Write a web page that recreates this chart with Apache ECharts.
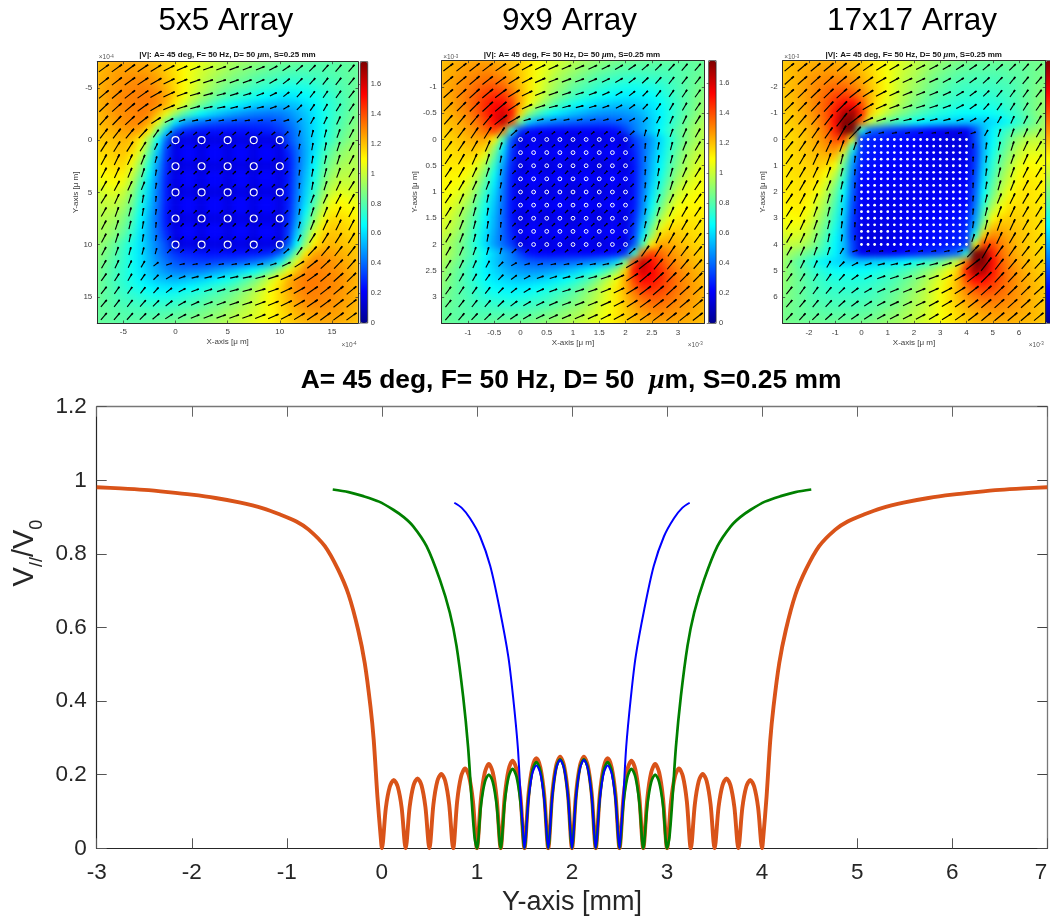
<!DOCTYPE html>
<html><head><meta charset="utf-8">
<style>html,body{margin:0;padding:0;background:#fff;overflow:hidden}#c{width:1050px;height:919px}</style>
<script src="https://cdn.jsdelivr.net/npm/echarts@6/dist/echarts.min.js"></script>
</head><body><div id="c"></div>
<script>
// |V| samples (hundredths) on a 31 x 31 lattice, top row first
const heat5x5=[
[120,122,123,124,124,123,122,120,117,114,111,108,105,102,99,96,94,92,90,88,86,85,84,83,82,81,81,81,82,82,83],
[121,123,125,126,126,126,125,122,118,114,110,106,102,99,96,93,90,88,86,84,82,81,80,79,79,79,79,80,81,82,83],
[122,124,126,128,129,129,128,125,120,115,110,105,100,96,92,89,86,84,81,79,78,76,75,75,75,76,77,78,80,82,83],
[122,125,127,129,130,131,130,127,122,116,110,104,98,93,88,84,81,79,76,74,72,70,69,69,70,72,74,76,79,81,84],
[122,125,128,130,131,132,132,129,124,116,108,100,93,87,82,78,75,72,69,66,64,62,62,63,65,68,71,74,78,81,85],
[122,125,128,130,131,132,132,129,122,112,102,92,84,78,72,68,64,61,58,56,54,53,54,56,60,64,69,73,77,81,86],
[121,124,127,129,130,132,130,120,106,92,80,72,65,60,56,52,49,46,44,43,42,43,46,51,56,62,68,73,78,82,87],
[120,123,125,128,130,130,124,106,84,62,50,44,40,37,35,34,33,32,32,32,33,36,41,47,54,61,68,74,79,84,88],
[119,121,123,125,126,124,112,86,58,36,28,26,25,24,24,24,24,24,25,26,27,30,36,44,53,61,68,75,81,86,90],
[118,119,120,122,120,112,92,66,38,10,17,17,10,17,17,10,17,17,10,17,17,10,34,43,52,61,69,76,83,88,92],
[116,117,119,120,117,106,84,58,32,17,22,22,17,22,22,17,22,22,17,22,22,17,29,40,51,61,73,81,88,92,94],
[114,115,117,118,112,98,76,52,30,17,22,22,17,22,22,17,22,22,17,22,22,17,26,39,51,63,76,85,91,94,95],
[111,113,115,115,106,90,70,48,28,10,17,17,10,17,17,10,17,17,10,17,17,10,25,39,52,65,79,88,94,96,96],
[108,110,112,111,100,84,64,45,27,17,22,22,17,22,22,17,22,22,17,22,22,17,25,40,54,68,82,92,97,98,97],
[105,107,109,106,95,78,60,43,26,17,22,22,17,22,22,17,22,22,17,22,22,17,26,41,56,71,86,96,100,100,99],
[101,103,104,100,90,74,58,42,26,10,17,17,10,17,17,10,17,17,10,17,17,10,26,42,58,74,90,100,104,103,101],
[99,100,100,96,86,71,56,41,26,17,22,22,17,22,22,17,22,22,17,22,22,17,26,43,60,78,95,106,109,107,105],
[97,98,97,92,82,68,54,40,25,17,22,22,17,22,22,17,22,22,17,22,22,17,27,45,64,84,100,111,112,110,108],
[96,96,94,88,79,65,52,39,25,10,17,17,10,17,17,10,17,17,10,17,17,10,28,48,70,90,106,115,115,113,111],
[95,94,91,85,76,63,51,39,26,17,22,22,17,22,22,17,22,22,17,22,22,17,30,52,76,98,112,118,117,115,114],
[94,92,88,81,73,61,51,40,29,17,22,22,17,22,22,17,22,22,17,22,22,17,32,58,84,106,117,120,119,117,116],
[92,88,83,76,69,61,52,43,34,10,17,17,10,17,17,10,17,17,10,17,17,10,38,66,92,112,120,122,120,119,118],
[90,86,81,75,68,61,53,44,36,30,27,26,25,24,24,24,24,24,25,26,28,36,58,86,112,124,126,125,123,121,119],
[88,84,79,74,68,61,54,47,41,36,33,32,32,32,33,34,35,37,40,44,50,62,84,106,124,130,130,128,125,123,120],
[87,82,78,73,68,62,56,51,46,43,42,43,44,46,49,52,56,60,65,72,80,92,106,120,130,132,130,129,127,124,121],
[86,81,77,73,69,64,60,56,54,53,54,56,58,61,64,68,72,78,84,92,102,112,122,129,132,132,131,130,128,125,122],
[85,81,78,74,71,68,65,63,62,62,64,66,69,72,75,78,82,87,93,100,108,116,124,129,132,132,131,130,128,125,122],
[84,81,79,76,74,72,70,69,69,70,72,74,76,79,81,84,88,93,98,104,110,116,122,127,130,131,130,129,127,125,122],
[83,82,80,78,77,76,75,75,75,76,78,79,81,84,86,89,92,96,100,105,110,115,120,125,128,129,129,128,126,124,122],
[83,82,81,80,79,79,79,79,80,81,82,84,86,88,90,93,96,99,102,106,110,114,118,122,125,126,126,126,125,123,121],
[83,82,82,81,81,81,82,83,84,85,86,88,90,92,94,96,99,102,105,108,111,114,117,120,122,123,124,124,123,122,120]];
const heat9x9=[
[120,122,123,124,125,125,124,122,120,117,113,110,106,103,100,97,94,92,90,88,86,85,84,83,83,82,82,82,82,83,83],
[121,123,125,127,128,129,128,126,122,118,113,108,104,100,96,93,90,87,85,83,81,80,79,79,79,79,79,80,81,82,84],
[122,124,127,129,131,133,133,130,125,119,113,107,102,96,92,88,85,82,79,77,76,75,74,74,75,76,77,79,81,83,85],
[122,125,128,131,135,138,139,136,129,121,113,106,99,93,88,83,80,77,74,72,70,69,68,69,70,72,75,78,81,84,87],
[122,125,129,133,138,143,146,145,136,123,113,104,96,89,83,78,74,71,68,66,64,63,63,64,66,69,73,77,81,85,89],
[121,124,128,133,139,146,152,152,142,124,108,97,88,80,74,69,65,62,59,57,56,56,57,59,62,66,71,76,81,86,91],
[120,123,127,131,137,146,154,160,150,116,90,78,70,64,60,56,53,50,48,47,47,48,50,54,59,64,70,76,82,87,93],
[119,121,124,128,133,141,152,164,140,86,58,50,46,43,41,39,38,37,36,36,38,41,45,50,57,64,71,78,84,90,95],
[117,119,122,125,129,135,142,132,72,30,24,22,22,21,21,21,21,21,21,22,24,32,42,50,58,66,74,81,87,93,97],
[115,117,119,122,124,125,112,78,36,14,18,18,14,18,18,14,18,18,14,18,18,14,32,40,49,60,70,80,87,93,97],
[114,115,117,119,120,116,92,62,32,18,21,21,18,21,21,18,21,21,18,21,21,18,28,39,50,61,72,82,90,96,100],
[113,114,115,116,114,104,82,56,30,18,21,21,18,21,21,18,21,21,18,21,21,18,26,39,52,63,74,85,93,99,103],
[112,113,113,112,106,94,74,50,28,14,18,18,14,18,18,14,18,18,14,18,18,14,25,39,53,65,77,87,95,101,105],
[111,111,111,108,100,86,68,46,26,18,21,21,18,21,21,18,21,21,18,21,21,18,25,40,55,68,80,91,98,104,107],
[110,110,108,104,94,80,63,44,25,18,21,21,18,21,21,18,21,21,18,21,21,18,25,41,57,71,84,95,102,106,108],
[109,108,105,100,89,75,60,42,25,14,18,18,14,18,18,14,18,18,14,18,18,14,25,42,60,75,89,100,105,108,109],
[108,106,102,95,84,71,57,41,25,18,21,21,18,21,21,18,21,21,18,21,21,18,25,44,63,80,94,104,108,110,110],
[107,104,98,91,80,68,55,40,25,18,21,21,18,21,21,18,21,21,18,21,21,18,26,46,68,86,100,108,111,111,111],
[105,101,95,87,77,65,53,39,25,14,18,18,14,18,18,14,18,18,14,18,18,14,28,50,74,94,106,112,113,113,112],
[103,99,93,85,74,63,52,39,26,18,21,21,18,21,21,18,21,21,18,21,21,18,30,56,82,104,114,116,115,114,113],
[100,96,90,82,72,61,50,39,28,18,21,21,18,21,21,18,21,21,18,21,21,18,32,62,92,116,120,119,117,115,114],
[97,93,87,80,70,60,49,40,32,14,18,18,14,18,18,14,18,18,14,18,18,14,36,78,112,125,124,122,119,117,115],
[97,93,87,81,74,66,58,50,42,32,24,22,21,21,21,21,21,21,22,22,24,30,72,132,142,135,129,125,122,119,117],
[95,90,84,78,71,64,57,50,45,41,38,36,36,37,38,39,41,43,46,50,58,86,140,164,152,141,133,128,124,121,119],
[93,87,82,76,70,64,59,54,50,48,47,47,48,50,53,56,60,64,70,78,90,116,150,160,154,146,137,131,127,123,120],
[91,86,81,76,71,66,62,59,57,56,56,57,59,62,65,69,74,80,88,97,108,124,142,152,152,146,139,133,128,124,121],
[89,85,81,77,73,69,66,64,63,63,64,66,68,71,74,78,83,89,96,104,113,123,136,145,146,143,138,133,129,125,122],
[87,84,81,78,75,72,70,69,68,69,70,72,74,77,80,83,88,93,99,106,113,121,129,136,139,138,135,131,128,125,122],
[85,83,81,79,77,76,75,74,74,75,76,77,79,82,85,88,92,96,102,107,113,119,125,130,133,133,131,129,127,124,122],
[84,82,81,80,79,79,79,79,79,80,81,83,85,87,90,93,96,100,104,108,113,118,122,126,128,129,128,127,125,123,121],
[83,83,82,82,82,82,83,83,84,85,86,88,90,92,94,97,100,103,106,110,113,117,120,122,124,125,125,124,123,122,120]];
const heat17x17=[
[118,120,121,122,123,123,123,122,120,118,115,112,108,105,102,99,96,93,91,89,87,86,85,84,84,84,84,84,85,85,86],
[119,121,123,124,125,126,126,125,123,120,116,112,108,104,100,97,94,90,88,85,83,82,81,81,81,81,82,82,83,85,86],
[119,121,123,126,128,129,130,129,127,123,118,113,108,103,98,95,91,87,84,82,80,79,78,78,78,79,80,81,83,85,87],
[119,121,124,127,130,133,135,135,132,127,120,114,108,102,97,93,89,85,82,79,77,76,76,76,76,77,78,80,83,86,88],
[118,121,124,127,131,136,141,143,140,132,122,114,107,101,95,90,86,82,79,77,75,74,73,73,74,75,77,80,83,86,90],
[118,120,123,127,132,138,146,152,152,140,122,112,104,98,92,87,83,79,76,74,72,71,71,71,71,73,76,79,83,87,91],
[117,119,122,126,131,138,150,166,170,148,118,106,98,91,86,81,77,74,71,69,67,66,66,66,67,70,73,77,82,87,92],
[116,118,121,124,129,137,152,178,182,135,100,90,82,76,72,68,65,62,60,58,57,56,56,57,60,63,68,74,80,86,93],
[115,117,119,122,127,134,148,176,178,72,40,36,32,30,28,26,24,22,20,18,18,20,34,54,64,72,78,83,88,92,95],
[114,116,118,121,125,131,140,142,105,30,27,26,24,24,23,22,20,18,17,16,15,16,34,54,65,75,84,92,97,99,98],
[114,116,118,120,123,127,130,118,72,30,26,25,24,23,22,21,20,18,17,16,16,17,30,54,67,78,88,97,102,103,102],
[113,115,117,119,120,122,119,94,54,28,25,24,23,23,22,21,20,19,18,17,17,18,30,55,70,82,92,101,106,107,106],
[113,115,116,117,118,116,108,82,48,26,24,23,22,22,21,21,20,19,18,18,18,19,32,57,73,86,96,105,110,109,108],
[112,114,115,116,115,109,98,76,44,24,23,22,22,21,21,20,20,19,19,18,19,20,34,60,76,90,100,108,112,111,110],
[112,113,114,114,112,103,90,70,40,22,22,21,21,21,20,20,20,20,19,19,20,21,36,62,80,94,103,111,113,112,111],
[112,113,114,113,108,98,84,66,38,20,21,20,20,20,20,20,20,20,20,20,21,20,38,66,84,98,108,113,114,113,112],
[111,112,113,111,103,94,80,62,36,21,20,19,19,20,20,20,20,21,21,21,22,22,40,70,90,103,112,114,114,113,112],
[110,111,112,108,100,90,76,60,34,20,19,18,19,19,20,20,21,21,22,22,23,24,44,76,98,109,115,116,115,114,112],
[108,109,110,105,96,86,73,57,32,19,18,18,18,19,20,21,21,22,22,23,24,26,48,82,108,116,118,117,116,115,113],
[106,107,106,101,92,82,70,55,30,18,17,17,18,19,20,21,22,23,23,24,25,28,54,94,119,122,120,119,117,115,113],
[102,103,102,97,88,78,67,54,30,17,16,16,17,18,20,21,22,23,24,25,26,30,72,118,130,127,123,120,118,116,114],
[98,99,97,92,84,75,65,54,34,16,15,16,17,18,20,22,23,24,24,26,27,30,105,142,140,131,125,121,118,116,114],
[95,92,88,83,78,72,64,54,34,20,18,18,20,22,24,26,28,30,32,36,40,72,178,176,148,134,127,122,119,117,115],
[93,86,80,74,68,63,60,57,56,56,57,58,60,62,65,68,72,76,82,90,100,135,182,178,152,137,129,124,121,118,116],
[92,87,82,77,73,70,67,66,66,66,67,69,71,74,77,81,86,91,98,106,118,148,170,166,150,138,131,126,122,119,117],
[91,87,83,79,76,73,71,71,71,71,72,74,76,79,83,87,92,98,104,112,122,140,152,152,146,138,132,127,123,120,118],
[90,86,83,80,77,75,74,73,73,74,75,77,79,82,86,90,95,101,107,114,122,132,140,143,141,136,131,127,124,121,118],
[88,86,83,80,78,77,76,76,76,76,77,79,82,85,89,93,97,102,108,114,120,127,132,135,135,133,130,127,124,121,119],
[87,85,83,81,80,79,78,78,78,79,80,82,84,87,91,95,98,103,108,113,118,123,127,129,130,129,128,126,123,121,119],
[86,85,83,82,82,81,81,81,81,82,83,85,88,90,94,97,100,104,108,112,116,120,123,125,126,126,125,124,123,121,119],
[86,85,85,84,84,84,84,84,85,86,87,89,91,93,96,99,102,105,108,112,115,118,120,122,123,123,123,122,121,120,118]];
// quiver direction in degrees (20 x 20); 0 = no arrow visible
const angles5x5=[
[36,36,36,34,31,27,24,22,20,20,20,21,23,28,33,40,45,48,50,50],
[38,38,36,34,30,26,22,20,18,18,20,20,24,30,38,45,48,52,52,50],
[40,40,38,35,30,25,20,16,15,15,17,17,20,27,38,48,52,55,55,52],
[44,42,40,36,30,23,18,15,12,12,14,14,14,20,30,45,55,60,58,55],
[48,46,43,38,32,25,18,12,10,10,10,10,10,12,18,38,60,65,65,60],
[52,52,50,47,55,40,40,40,40,40,42,42,42,40,45,75,75,75,70,62],
[58,58,58,58,65,42,42,42,42,42,42,42,42,42,45,80,80,78,72,62],
[62,64,65,68,75,45,45,45,45,45,45,45,45,45,45,85,80,77,72,62],
[62,65,68,72,80,45,45,45,45,45,45,45,45,45,45,82,80,75,70,60],
[60,62,65,68,80,45,45,45,45,45,45,45,45,45,45,85,80,72,65,58],
[58,65,72,80,85,45,45,45,45,45,45,45,45,45,45,80,68,65,62,60],
[60,70,75,80,82,45,45,45,45,45,45,45,45,45,45,80,72,68,65,62],
[62,72,77,80,85,45,45,45,45,45,45,45,45,45,45,75,68,65,64,62],
[62,72,78,80,80,45,42,42,42,42,42,42,42,42,42,65,58,58,58,58],
[62,70,75,75,75,45,40,42,42,42,40,40,40,40,40,55,47,50,52,52],
[60,65,65,60,38,18,12,10,10,10,10,10,12,18,25,32,38,43,46,48],
[55,58,60,55,45,30,20,14,14,14,12,12,15,18,23,30,36,40,42,44],
[52,55,55,52,48,38,27,20,17,17,15,15,16,20,25,30,35,38,40,40],
[50,52,52,48,45,38,30,24,20,20,18,18,20,22,26,30,34,36,38,38],
[50,50,48,45,40,33,28,23,21,20,20,20,22,24,27,31,34,36,36,36]];
const angles9x9=[
[38,38,38,37,35,32,28,26,24,23,23,24,26,30,34,40,44,47,50,50],
[40,40,40,38,36,32,28,24,22,21,21,23,26,31,37,43,48,52,52,52],
[42,42,42,40,37,32,26,22,19,18,18,20,24,30,38,46,52,55,56,54],
[45,45,45,43,40,33,24,18,15,15,15,17,20,28,36,46,55,60,60,56],
[48,50,50,50,38,30,15,12,11,11,11,12,14,18,28,44,62,66,64,58],
[50,53,56,58,55,42,38,38,38,38,40,40,40,40,42,75,74,70,66,60],
[54,56,60,66,72,42,40,42,42,42,42,42,42,42,45,84,80,75,68,60],
[56,60,66,72,78,45,42,42,42,42,42,42,42,42,45,85,80,75,68,60],
[56,60,65,72,80,45,45,45,45,45,45,45,45,45,45,85,80,74,66,58],
[55,60,65,70,78,45,45,45,45,45,45,45,45,45,45,84,78,72,65,56],
[56,65,72,78,84,45,45,45,45,45,45,45,45,45,45,78,70,65,60,55],
[58,66,74,80,85,45,45,45,45,45,45,45,45,45,45,80,72,65,60,56],
[60,68,75,80,85,45,42,42,42,42,42,42,42,42,45,78,72,66,60,56],
[60,68,75,80,84,45,42,42,42,42,42,42,42,40,42,72,66,60,56,54],
[60,66,70,74,75,42,40,40,40,40,38,38,38,38,42,55,58,56,53,50],
[58,64,66,62,44,28,18,14,12,11,11,11,12,15,30,38,50,50,50,48],
[56,60,60,55,46,36,28,20,17,15,15,15,18,24,33,40,43,45,45,45],
[54,56,55,52,46,38,30,24,20,18,18,19,22,26,32,37,40,42,42,42],
[52,52,52,48,43,37,31,26,23,21,21,22,24,28,32,36,38,40,40,40],
[50,50,47,44,40,34,30,26,24,23,23,24,26,28,32,35,37,38,38,38]];
const angles17x17=[
[40,40,40,40,40,38,35,32,30,28,28,28,30,32,35,40,42,45,48,48],
[42,42,42,42,40,38,35,30,28,25,25,25,28,32,36,42,46,50,50,50],
[42,44,44,44,42,38,32,27,24,22,22,22,25,30,36,44,50,54,54,52],
[45,46,47,47,45,38,30,24,20,18,18,18,20,27,35,48,55,58,58,55],
[48,50,50,52,52,38,24,17,14,13,13,13,14,18,28,45,60,65,63,58],
[50,52,55,55,60,46,18,13,11,10,10,10,10,12,18,60,72,70,65,60],
[52,56,60,65,70,72,0,0,0,0,0,0,0,0,85,82,78,72,65,60],
[55,60,65,70,76,82,0,0,0,0,0,0,0,0,87,82,76,70,65,58],
[58,60,65,70,76,85,0,0,0,0,0,0,0,0,87,82,76,70,63,58],
[56,60,64,68,76,85,0,0,0,0,0,0,0,0,87,80,74,68,62,56],
[56,62,68,74,80,87,0,0,0,0,0,0,0,0,85,76,68,64,60,56],
[58,63,70,76,82,87,0,0,0,0,0,0,0,0,85,76,70,65,60,58],
[58,65,70,76,82,87,0,0,0,0,0,0,0,0,82,76,70,65,60,55],
[60,65,72,78,82,85,0,0,0,0,0,0,0,0,72,70,65,60,56,52],
[60,65,70,72,60,18,12,10,10,10,10,11,13,18,46,60,55,55,52,50],
[58,63,65,60,45,28,18,14,13,13,13,14,17,24,38,52,52,50,50,48],
[55,58,58,55,48,35,27,20,18,18,18,20,24,30,38,45,47,47,46,45],
[52,54,54,50,44,36,30,25,22,22,22,24,27,32,38,42,44,44,44,42],
[50,50,50,46,42,36,32,28,25,25,25,28,30,35,38,40,42,42,42,42],
[48,48,45,42,40,35,32,30,28,28,28,30,32,35,38,40,40,40,40,40]];
const dots5x5=[0,2.5,5,7.5,10];
const dots9x9=[0,0.25,0.5,0.75,1,1.25,1.5,1.75,2];
const dots17x17=[0,0.25,0.5,0.75,1,1.25,1.5,1.75,2,2.25,2.5,2.75,3,3.25,3.5,3.75,4];
const ticks5x5=[-5,0,5,10,15];
const ticks9x9=[-1,-0.5,0,0.5,1,1.5,2,2.5,3];
const ticks17x17=[-2,-1,0,1,2,3,4,5,6];
const colorbarTicks=[0,0.2,0.4,0.6,0.8,1,1.2,1.4,1.6];
// bottom chart
const lobeX=[0,.042,.083,.125,.167,.208,.25,.292,.333,.375,.417,.458,.5,.542,.583,.625,.667,.708,.75,.792,.833,.875,.917,.958,1,1.042,1.083,1.125,1.167,1.208,1.25,1.292,1.333,1.375,1.417,1.458,1.5,1.542,1.583,1.625,1.667,1.708,1.75,1.792,1.833,1.875,1.917,1.958,2,2.042,2.083,2.125,2.167,2.208,2.25,2.292,2.333,2.375,2.417,2.458,2.5,2.542,2.583,2.625,2.667,2.708,2.75,2.792,2.833,2.875,2.917,2.958,3,3.042,3.083,3.125,3.167,3.208,3.25,3.292,3.333,3.375,3.417,3.458,3.5,3.542,3.583,3.625,3.667,3.708,3.75,3.792,3.833,3.875,3.917,3.958,4];
const orangeLobes=[0,.11,.167,.186,.167,.11,0,.112,.171,.19,.171,.112,0,.119,.182,.202,.182,.119,0,.128,.195,.217,.195,.128,0,.135,.206,.229,.206,.135,0,.14,.214,.238,.214,.14,0,.145,.22,.245,.22,.145,0,.147,.224,.249,.224,.147,0,.147,.224,.249,.224,.147,0,.145,.22,.245,.22,.145,0,.14,.214,.238,.214,.14,0,.135,.206,.229,.206,.135,0,.128,.195,.217,.195,.128,0,.119,.182,.202,.182,.119,0,.112,.171,.19,.171,.112,0,.11,.167,.186,.167,.11,0];
const greenLobes=[0,.116,.18,.2,.18,.116,0,.125,.194,.216,.194,.125,0,.136,.211,.234,.211,.136,0,.14,.218,.242,.218,.14,0,.14,.218,.242,.218,.14,0,.136,.211,.234,.211,.136,0,.125,.194,.216,.194,.125,0,.116,.18,.2,.18,.116,0];
const blueLobes=[0,.131,.203,.225,.203,.131,0,.139,.216,.24,.216,.139,0,.139,.216,.24,.216,.139,0,.131,.203,.225,.203,.131,0];
const orangeLeftX=[-3,-2.75,-2.5,-2.25,-2,-1.75,-1.5,-1.25,-1.07,-.9,-.77,-.6,-.46,-.35,-.25,-.18,-.12,-.086,-.047,-.012];
const orangeLeftY=[.981,.978,.974,.968,.961,.952,.94,.924,.907,.888,.866,.821,.757,.689,.594,.503,.385,.295,.141,.03];
const orangeRightX=[4.012,4.047,4.086,4.12,4.18,4.25,4.35,4.46,4.6,4.77,4.9,5.07,5.25,5.5,5.75,6,6.25,6.5,6.75,7];
const orangeRightY=[.03,.141,.295,.385,.503,.594,.689,.757,.821,.866,.888,.907,.924,.94,.952,.961,.968,.974,.978,.981];
const greenLeftX=[-.517,-.35,-.195,-.03,.12,.23,.33,.47,.61,.715,.785,.855,.907,.942,.975];
const greenLeftY=[.975,.968,.957,.942,.92,.9,.875,.821,.73,.64,.55,.412,.275,.14,.03];
const greenRightX=[3.025,3.058,3.093,3.145,3.215,3.285,3.39,3.53,3.67,3.77,3.88,4.03,4.195,4.35,4.517];
const greenRightY=[.03,.14,.275,.412,.55,.64,.73,.821,.875,.9,.92,.942,.957,.968,.975];
const blueLeftX=[.762,.84,.927,1.032,1.14,1.24,1.33,1.38,1.43,1.46,1.49];
const blueLeftY=[.939,.925,.897,.848,.767,.649,.521,.412,.275,.14,.03];
const blueRightX=[2.51,2.54,2.57,2.62,2.67,2.76,2.86,2.968,3.073,3.16,3.238];
const blueRightY=[.03,.14,.275,.412,.521,.649,.767,.848,.897,.925,.939];

const FONT='"Liberation Sans",Arial,Helvetica,sans-serif';
const jet=['#00008f','#0000ff','#0080ff','#00ffff','#80ff80','#ffff00','#ff8000','#ff0000','#800000'];
const panels=[
 {name:'5x5 Array',cx:225.8,subx:227.5,exp:'-4',heat:heat5x5,ang:angles5x5,dots:dots5x5,ticks:ticks5x5,min:-7.5,max:17.5,yGap:9,
  L:97.3,T:61.7,R:358,B:323,cbL:360.3,dot:{symbolSize:7,fill:'transparent',bw:1.1}},
 {name:'9x9 Array',cx:569.5,subx:572,exp:'-3',heat:heat9x9,ang:angles9x9,dots:dots9x9,ticks:ticks9x9,min:-1.5,max:3.5,yGap:18,
  L:441.7,T:60.7,R:704.3,B:323.3,cbL:708.7,dot:{symbolSize:3.8,fill:'transparent',bw:1}},
 {name:'17x17 Array',cx:912,subx:913.7,exp:'-3',heat:heat17x17,ang:angles17x17,dots:dots17x17,ticks:ticks17x17,min:-3,max:7,yGap:8,
  L:782.7,T:60.7,R:1045.3,B:323.3,cbL:1045.7,dot:{symbolSize:2.8,fill:'#fff',bw:0}}];

const Z=1, grid=[],xAxis=[],yAxis=[],series=[],title=[],visualMap=[];
const tick='#404040', box='#2b2b2b';
function txt(text,x,y,size,extra){
  title.push(Object.assign({text,left:x,top:y,textAlign:'center',textVerticalAlign:'middle',padding:0,zlevel:Z,
    textStyle:Object.assign({fontFamily:FONT,fontSize:size,fontWeight:'normal',color:'#000'},extra||{})}));
}
const clip=[];
panels.forEach((p,pi)=>{
  const n=p.heat.length, W=p.R-p.L, H=p.B-p.T, hx=W/(n-1)/2, hy=H/(n-1)/2;
  clip.push(`M${p.L} ${p.T}H${p.R}V${p.B}H${p.L}Z`);
  const g=grid.length;
  grid.push({left:p.L-hx,top:p.T-hy,width:W+2*hx,height:H+2*hy,zlevel:0,outerBoundsMode:'none'});
  grid.push({left:p.L,top:p.T,width:W,height:H,zlevel:Z,outerBoundsMode:'none'});
  grid.push({left:p.cbL,top:p.T,width:7.4,height:H,show:true,borderColor:box,borderWidth:.8,backgroundColor:'transparent',zlevel:Z,z:8,outerBoundsMode:'none'});
  const cats=[...Array(n).keys()].map(String);
  const hxI=xAxis.length;
  const tickSet=(side,lab)=>({
    axisLine:{show:true,onZero:false,lineStyle:{color:box,width:1}},
    axisTick:{show:true,inside:true,length:2.5,customValues:p.ticks,lineStyle:{color:box,width:.7}},
    axisLabel:{show:lab,margin:5,fontSize:8,color:tick,fontFamily:FONT,customValues:p.ticks,formatter:v=>String(v)},
    splitLine:{show:false},position:side,min:p.min,max:p.max,type:'value',zlevel:Z});
  xAxis.push({gridIndex:g,type:'category',data:cats,show:false,zlevel:0});
  xAxis.push(Object.assign(tickSet('bottom',true),{gridIndex:g+1,name:'X-axis [\u03bc m]',nameLocation:'middle',nameGap:15,nameTextStyle:{fontSize:8,color:tick,fontFamily:FONT}}));
  xAxis.push(Object.assign(tickSet('top',false),{gridIndex:g+1}));
  xAxis.push({gridIndex:g+2,type:'value',show:false,min:0,max:1,zlevel:Z});
  yAxis.push({gridIndex:g,type:'category',data:cats,show:false,inverse:true,zlevel:0});
  yAxis.push(Object.assign(tickSet('left',true),{gridIndex:g+1,inverse:true,name:'Y-axis [\u03bc m]',nameLocation:'middle',nameGap:p.yGap,nameTextStyle:{fontSize:8,color:tick,fontFamily:FONT}}));
  yAxis.push(Object.assign(tickSet('right',false),{gridIndex:g+1,inverse:true}));
  yAxis.push({gridIndex:g+2,type:'value',position:'right',min:0,max:1.75,zlevel:Z,splitLine:{show:false},
    axisLine:{show:false},axisTick:{show:true,inside:true,length:2,customValues:colorbarTicks,lineStyle:{color:box,width:.6}},
    axisLabel:{margin:3,fontSize:7.5,color:tick,fontFamily:FONT,customValues:colorbarTicks,formatter:v=>String(v)}});
  const heatData=[];
  p.heat.forEach((row,l)=>row.forEach((v,k)=>heatData.push([k,l,v/100])));
  visualMap.push({type:'continuous',seriesIndex:series.length,dimension:2,min:0,max:1.75,calculable:false,realtime:false,hoverLink:false,
    inRange:{color:jet},left:p.cbL,top:p.T,itemWidth:7.4,itemHeight:H,padding:0,text:null,showLabel:false,textStyle:{fontSize:0},zlevel:Z,z:4});
  series.push({type:'heatmap',xAxisIndex:hxI,yAxisIndex:hxI,data:heatData,zlevel:0,silent:true,progressive:0,itemStyle:{borderWidth:0},animation:false});
  // quiver
  const q=[], step=(p.max-p.min)/p.ang.length;
  p.ang.forEach((row,j)=>row.forEach((a,i)=>{
    if(!a) return;
    const v=p.heat[Math.min(n-1,Math.round(1.5*(j+.5)))][Math.min(n-1,Math.round(1.5*(i+.5)))]/100;
    q.push([p.min+(i+.5)*step,p.min+(j+.5)*step,a,v]);
  }));
  series.push({type:'custom',xAxisIndex:hxI+1,yAxisIndex:hxI+1,data:q,zlevel:Z,z:3,silent:true,clip:true,animation:false,
    encode:{x:0,y:1},
    renderItem:(params,api)=>{
      const c=api.coord([api.value(0),api.value(1)]), a=api.value(2)*Math.PI/180, len=2.5+8*api.value(3);
      const dx=Math.cos(a)*len/2, dy=-Math.sin(a)*len/2;
      return {type:'group',children:[
        {type:'line',shape:{x1:c[0]-dx,y1:c[1]-dy,x2:c[0]+dx,y2:c[1]+dy},style:{stroke:'#000',lineWidth:1.15}},
        {type:'line',shape:{x1:c[0]+dx*.45,y1:c[1]+dy*.45,x2:c[0]+dx,y2:c[1]+dy},style:{stroke:'#000',lineWidth:1.7}}]};
    }});
  const dd=[]; p.dots.forEach(y=>p.dots.forEach(x=>dd.push([x,y])));
  series.push({type:'scatter',xAxisIndex:hxI+1,yAxisIndex:hxI+1,data:dd,zlevel:Z,z:4,silent:true,symbol:'circle',symbolSize:p.dot.symbolSize,animation:false,
    itemStyle:{color:p.dot.fill,borderColor:'#fff',borderWidth:p.dot.bw,opacity:1}});
  txt(p.name,p.cx,21.5,31.5);
  txt('{b||V|: A= 45 deg, F= 50 Hz, D= 50 }{m|\u03bc}{b|m, S=0.25 mm}',p.subx,55,8,{rich:{
    b:{fontFamily:FONT,fontSize:8,fontWeight:'bold',color:'#111'},m:{fontFamily:'"Liberation Serif",serif',fontStyle:'italic',fontSize:8.5,fontWeight:'bold',color:'#111'}}});
  const expRich={rich:{a:{fontFamily:FONT,fontSize:6.5,color:'#555'},s:{fontFamily:FONT,fontSize:4.5,color:'#555',verticalAlign:'top'}}};
  txt(`{a|\u00d710}{s|${p.exp}}`,p.L+9,57.5,6.5,expRich);
  txt(`{a|\u00d710}{s|${p.exp}}`,p.R-9,345,6.5,expRich);
});

// main chart
const g=grid.length, ax=xAxis.length;
grid.push({left:96.7,top:406.7,width:950.6,height:441.6,zlevel:Z,outerBoundsMode:'none'});
const mainLine=(c,w)=>({show:true,onZero:false,lineStyle:{color:c,width:w}});
xAxis.push({gridIndex:g,type:'value',min:-3,max:7,interval:1,position:'bottom',zlevel:Z,splitLine:{show:false},axisLine:mainLine('#262626',1.2),
  axisTick:{inside:true,length:10,lineStyle:{color:'#555',width:1}},axisLabel:{margin:13,fontSize:22.5,color:'#262626',fontFamily:FONT,alignMaxLabel:'right'},
  name:'Y-axis [mm]',nameLocation:'middle',nameGap:41,nameTextStyle:{fontSize:27,color:'#262626',fontFamily:FONT}});
xAxis.push({gridIndex:g,type:'value',min:-3,max:7,interval:1,position:'top',zlevel:Z,splitLine:{show:false},axisLine:mainLine('#777',1.3),
  axisTick:{inside:true,length:10,lineStyle:{color:'#666',width:1}},axisLabel:{show:false}});
yAxis.push({gridIndex:g,type:'value',min:0,max:1.2,interval:.2,position:'left',zlevel:Z,splitLine:{show:false},axisLine:mainLine('#262626',1.2),
  axisTick:{inside:true,length:10,lineStyle:{color:'#555',width:1}},axisLabel:{margin:10,fontSize:22.5,color:'#262626',fontFamily:FONT,formatter:v=>String(v)}});
yAxis.push({gridIndex:g,type:'value',min:0,max:1.2,interval:.2,position:'right',zlevel:Z,splitLine:{show:false},axisLine:mainLine('#777',1.3),
  axisTick:{inside:true,length:10,lineStyle:{color:'#444',width:1}},axisLabel:{show:false}});
const zip=(xs,ys)=>xs.map((x,i)=>[x,ys[i]]);
[
 {c:'#d95319',w:3.9,d:[...zip(orangeLeftX,orangeLeftY),...zip(lobeX,orangeLobes),...zip(orangeRightX,orangeRightY)]},
 {c:'#008000',w:2.7,d:[...zip(greenLeftX,greenLeftY),...zip(lobeX.slice(24,73),greenLobes),...zip(greenRightX,greenRightY)]},
 {c:'#0000ff',w:2,d:[...zip(blueLeftX,blueLeftY),...zip(lobeX.slice(36,61),blueLobes),...zip(blueRightX,blueRightY)]}
].forEach(s=>series.push({type:'line',xAxisIndex:ax,yAxisIndex:ax,data:s.d,showSymbol:false,symbol:'none',zlevel:Z,animation:false,silent:true,
  smooth:.3,lineStyle:{color:s.c,width:s.w,join:'round'},itemStyle:{color:s.c}}));
txt('{b|A= 45 deg, F= 50 Hz, D= 50  }{m|\u03bc}{b|m, S=0.25 mm}',571,381,26.4,{rich:{
  b:{fontFamily:FONT,fontSize:26.4,fontWeight:'bold',color:'#000'},m:{fontFamily:'"Liberation Serif",serif',fontStyle:'italic',fontWeight:'bold',fontSize:28,color:'#000'}}});

const chart=echarts.init(document.getElementById('c'),null,{renderer:'canvas'});
chart.setOption({animation:false,backgroundColor:'transparent',title,grid,xAxis,yAxis,visualMap,series,tooltip:{show:false},
  graphic:[{type:'text',zlevel:Z,x:25,y:553,rotation:Math.PI/2,style:{
    text:'{v|V}{s|//}{v|/V}{s|0}',align:'center',verticalAlign:'middle',
    rich:{v:{fontFamily:FONT,fontSize:29,fill:'#262626',color:'#262626',lineHeight:42},
          s:{fontFamily:FONT,fontSize:18,fill:'#262626',color:'#262626',verticalAlign:'bottom',lineHeight:42}}}}]});
// the field samples sit on the bottom canvas layer: soften it like the reference's shaded surface
const layer=chart.getDom().querySelectorAll('canvas')[0];
layer.style.filter='blur(3px)';
layer.style.clipPath=`path('${clip.join(' ')}')`;
</script></body></html>
